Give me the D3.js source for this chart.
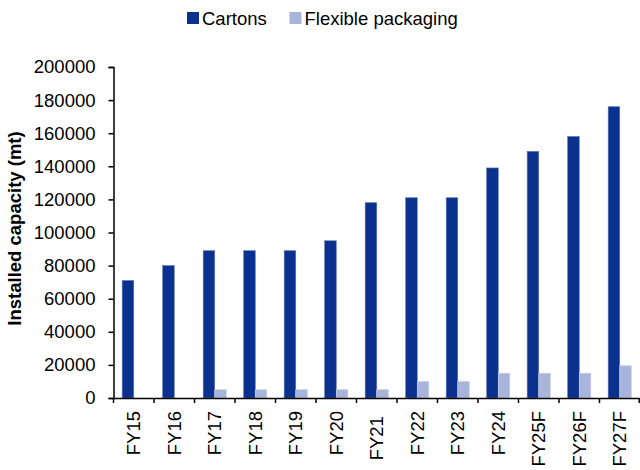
<!DOCTYPE html>
<html><head><meta charset="utf-8">
<script src="https://cdn.jsdelivr.net/npm/d3@7"></script>
<style>body{margin:0;background:#fff}text{font-family:"Liberation Sans",Arial,sans-serif}</style>
</head><body><svg id="c" width="640" height="470"></svg>
<script>
const categories = ["FY15","FY16","FY17","FY18","FY19","FY20","FY21","FY22","FY23","FY24","FY25F","FY26F","FY27F"];
const tickLabels = ["FY15","FY16","FY17","FY18","FY19","FY20","FY21 ","FY22","FY23","FY24","FY25F","FY26F","FY27F"];
const cartons = [71000,80000,89000,89000,89000,95000,118000,121000,121000,139000,149000,158000,176000];
const flexible = [0,0,5000,5000,5000,5000,5000,10000,10000,15000,15000,15000,19500];
const seriesNames = ["Cartons","Flexible packaging"];
const yTicks = [0,20000,40000,60000,80000,100000,120000,140000,160000,180000,200000];
const colors = ["#0b318f","#a8b4da"];

const svg = d3.select("#c");
const x0 = 113.5, x1 = 640, yTop = 67, yBot = 398;
const x = d3.scaleBand().domain(categories).range([x0, x1]).paddingInner(0).paddingOuter(0);
const sub = d3.scaleBand().domain([0,1]).range([0, x.bandwidth()]).paddingInner(0).paddingOuter(0.75);
const y = d3.scaleLinear().domain([0,200000]).range([yBot, yTop]);

const fs = 18.5;
const data = categories.map((c,i)=>({c, v:[cartons[i], flexible[i]]}));
const g = svg.append("g");
[0,1].forEach(s=>{
  g.selectAll(".b"+s).data(data).enter().append("rect")
    .attr("x", d=>x(d.c)+sub(s))
    .attr("y", d=>y(d.v[s]))
    .attr("width", sub.bandwidth())
    .attr("height", d=>yBot - y(d.v[s]))
    .attr("fill", colors[s])
    .attr("stroke", s===0 ? "#5b73b8" : "#c9d0ea")
    .attr("stroke-width", 0.6);
});

const ya = svg.append("g").attr("transform",`translate(${x0},0)`)
  .call(d3.axisLeft(y).tickValues(yTicks).tickFormat(d3.format("d")).tickSize(5).tickPadding(13));
ya.select(".domain").attr("stroke","#000").attr("stroke-width",1.5);
ya.selectAll(".tick line").attr("stroke","#000").attr("stroke-width",1.5);
ya.selectAll("text").attr("font-size",fs).attr("fill","#000").style("font-family","Liberation Sans, Arial, sans-serif");

const xa = svg.append("g").attr("transform",`translate(0,${yBot})`)
  .call(d3.axisBottom(x).tickSize(0).tickFormat((d,i)=>tickLabels[i]));
xa.select(".domain").attr("stroke","#000").attr("stroke-width",1.5);
xa.selectAll(".tick text")
  .attr("font-size",fs).attr("fill","#000")
  .style("font-family","Liberation Sans, Arial, sans-serif")
  .style("white-space","pre")
  .attr("text-anchor","end")
  .attr("transform","rotate(-90)")
  .attr("x",-13).attr("y",0).attr("dy","0.35em");
const bounds = categories.map(c=>x(c)).concat([x1-0.75]);
svg.append("g").selectAll("line").data(bounds).enter().append("line")
  .attr("x1",d=>d).attr("x2",d=>d).attr("y1",yBot).attr("y2",yBot+5)
  .attr("stroke","#000").attr("stroke-width",1.5);

svg.append("text").attr("transform",`translate(21,${(yTop+yBot)/2-4}) rotate(-90)`)
  .attr("text-anchor","middle").attr("font-size",fs).attr("font-weight","bold").attr("fill","#000")
  .text("Installed capacity (mt)");

const leg = [{n:seriesNames[0], x:187},{n:seriesNames[1], x:289.5}];
leg.forEach((l,i)=>{
  svg.append("rect").attr("x",l.x).attr("y",12).attr("width",12).attr("height",12).attr("fill",colors[i]);
  svg.append("text").attr("x",l.x+15).attr("y",25).attr("font-size",fs).attr("fill","#000").text(l.n);
});
</script></body></html>
